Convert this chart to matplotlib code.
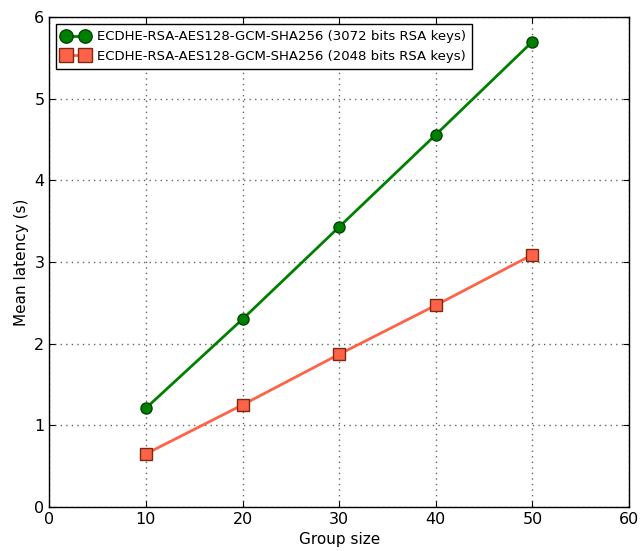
import matplotlib
matplotlib.use("Agg")
import matplotlib.pyplot as plt

group_size = [10, 20, 30, 40, 50]
lat_3072 = [1.21, 2.30, 3.43, 4.56, 5.70]
lat_2048 = [0.65, 1.25, 1.87, 2.47, 3.09]
label_3072 = "ECDHE-RSA-AES128-GCM-SHA256 (3072 bits RSA keys)"
label_2048 = "ECDHE-RSA-AES128-GCM-SHA256 (2048 bits RSA keys)"

fig = plt.figure(figsize=(6.4, 5.51), dpi=100)
ax = fig.add_axes([0.077, 0.080, 0.906, 0.889])
ax.plot(group_size, lat_3072, color="green", lw=2, marker="o", ms=8,
        mec="#004400", mew=1, label=label_3072)
ax.plot(group_size, lat_2048, color="tomato", lw=2, marker="s", ms=8,
        mec="#7a2a10", mew=1, label=label_2048)
ax.set_xlim(0, 60)
ax.set_ylim(0, 6)
ax.set_xticks(range(0, 61, 10))
ax.set_yticks(range(0, 7))
ax.grid(True, color="#666666", linestyle=(0, (1, 3)), lw=1)
ax.tick_params(labelsize=11.5, direction="in", length=4)
ax.tick_params(top=True, right=True)
ax.set_xlabel("Group size", fontsize=11)
ax.set_ylabel("Mean latency (s)", fontsize=11)
leg = ax.legend(loc="upper left", fontsize=9.5, fancybox=False, framealpha=1,
                edgecolor="black", numpoints=2, handlelength=2.0,
                borderaxespad=0.5, handletextpad=0.6, markerscale=1.2,
                borderpad=0.5)
leg.get_frame().set_linewidth(1)
for s in ax.spines.values():
    s.set_linewidth(1)
fig.savefig("out.png", dpi=100)
